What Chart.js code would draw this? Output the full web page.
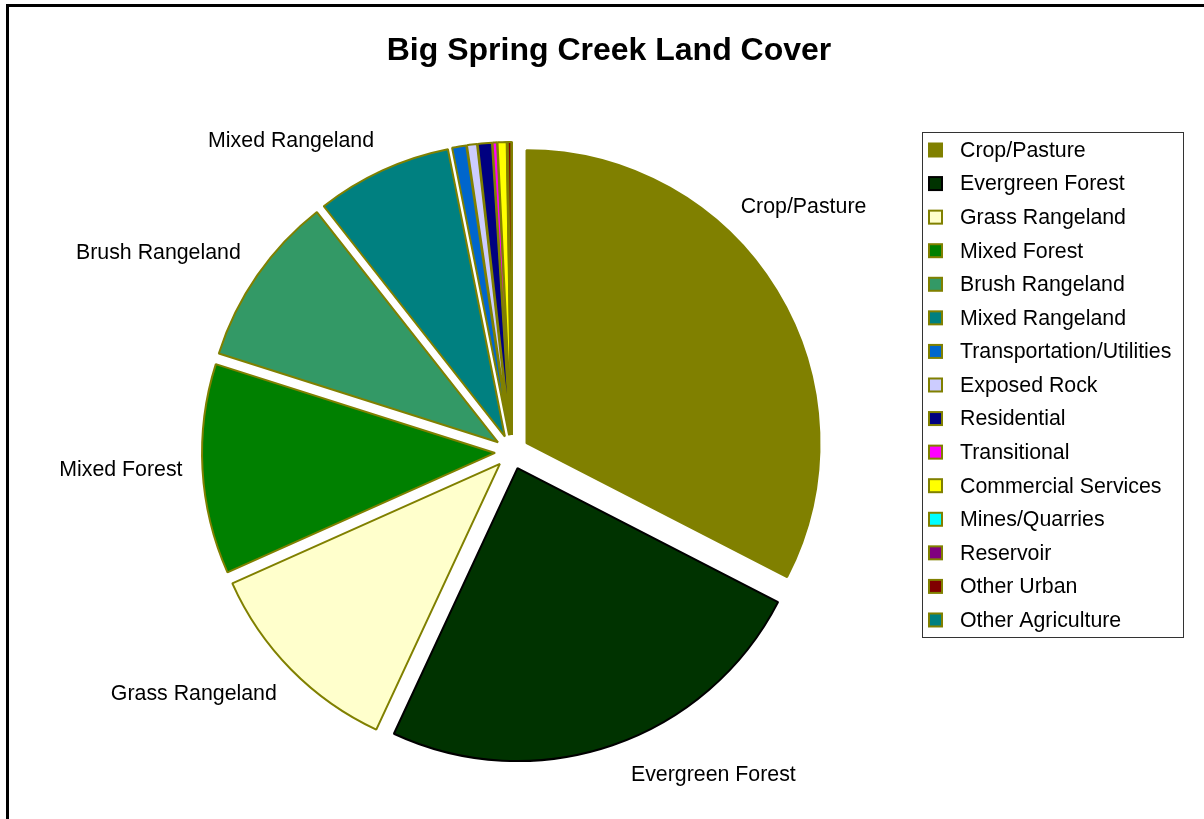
<!DOCTYPE html>
<html>
<head>
<meta charset="utf-8">
<script src="https://cdn.jsdelivr.net/npm/chart.js@4/dist/chart.umd.min.js"></script>
<style>
  html, body { margin: 0; padding: 0; background: #fff; }
  #wrap { width: 1204px; height: 819px; position: relative; }
</style>
</head>
<body>
<div id="wrap"><canvas id="c" width="1204" height="819"></canvas></div>
<script>
const chartTitle = 'Big Spring Creek Land Cover';
const categories = ['Crop/Pasture', 'Evergreen Forest', 'Grass Rangeland', 'Mixed Forest',
  'Brush Rangeland', 'Mixed Rangeland', 'Transportation/Utilities', 'Exposed Rock',
  'Residential', 'Transitional', 'Commercial Services', 'Mines/Quarries', 'Reservoir',
  'Other Urban', 'Other Agriculture'];
const values = [32.6, 24.4, 11.4, 11.6, 9.5, 7.5, 0.78, 0.55, 0.78, 0.25, 0.5, 0.02, 0.02, 0.2, 0.02];
const fillColors = ['#808000', '#003300', '#FFFFCC', '#008000', '#339966', '#008080', '#0066CC',
  '#CCCCFF', '#000080', '#FF00FF', '#FFFF00', '#00FFFF', '#800080', '#800000', '#008080'];
const edgeColors = ['#808000', '#000000', '#808000', '#808000', '#808000', '#808000', '#808000',
  '#808000', '#808000', '#808000', '#808000', '#808000', '#808000', '#808000', '#808000'];

const FONT = '"Liberation Sans", Arial, sans-serif';
const EXPLODE = 17;

const piePlugin = {
  id: 'piePlugin',
  beforeDraw(chart) {
    const ctx = chart.ctx;
    ctx.save();
    ctx.fillStyle = '#ffffff';
    ctx.fillRect(0, 0, chart.width, chart.height);
    ctx.fillStyle = '#000000';
    ctx.fillRect(6, 4, chart.width - 6, 3);
    ctx.fillRect(6, 4, 3, chart.height - 4);
    ctx.restore();
  },
  afterDatasetsUpdate(chart) {
    const meta = chart.getDatasetMeta(0);
    meta.data.forEach(arc => {
      if (arc._baseX === undefined) { arc._baseX = arc.x; arc._baseY = arc.y; }
      const mid = (arc.startAngle + arc.endAngle) / 2;
      arc.x = arc._baseX + Math.cos(mid) * EXPLODE;
      arc.y = arc._baseY + Math.sin(mid) * EXPLODE;
    });
  },
  afterDraw(chart, args, opts) {
    const ctx = chart.ctx;
    ctx.save();
    // title
    ctx.fillStyle = '#000';
    ctx.font = 'bold 32px ' + FONT;
    ctx.textAlign = 'center';
    ctx.textBaseline = 'middle';
    ctx.fillText(chartTitle, 609, 51);

    // slice labels
    const meta = chart.getDatasetMeta(0);
    const total = values.reduce((a, b) => a + b, 0);
    const nudges = opts.labelNudges || {};
    ctx.font = '21.33px ' + FONT;
    meta.data.forEach((arc, i) => {
      if (values[i] / total < 0.05) return;
      const mid = (arc.startAngle + arc.endAngle) / 2;
      const d = arc.outerRadius + EXPLODE + 20;
      const nd = nudges[categories[i]] || [0, 0];
      const x = arc._baseX + Math.cos(mid) * d + nd[0];
      const y = arc._baseY + Math.sin(mid) * d + nd[1];
      const c = Math.cos(mid), s = Math.sin(mid);
      ctx.textAlign = c > 0.1 ? 'left' : (c < -0.1 ? 'right' : 'center');
      ctx.textBaseline = s < -0.3 ? 'bottom' : (s > 0.3 ? 'top' : 'middle');
      ctx.fillText(categories[i], x, y);
    });

    // legend
    const lx = 922, ly = 132, lw = 261, lh = 505;
    ctx.lineWidth = 1;
    ctx.strokeStyle = '#333';
    ctx.strokeRect(lx + 0.5, ly + 0.5, lw, lh);
    ctx.textAlign = 'left';
    ctx.textBaseline = 'middle';
    const step = 33.57;
    categories.forEach((name, i) => {
      const cy = ly + 18 + i * step;
      ctx.fillStyle = fillColors[i];
      ctx.fillRect(929, cy - 6.5, 13, 13);
      ctx.lineWidth = 2;
      ctx.strokeStyle = edgeColors[i];
      ctx.strokeRect(929, cy - 6.5, 13, 13);
      ctx.fillStyle = '#000';
      ctx.fillText(name, 960, cy + 1);
    });
    ctx.restore();
  }
};

new Chart(document.getElementById('c'), {
  type: 'pie',
  data: {
    labels: categories,
    datasets: [{
      data: values,
      backgroundColor: fillColors,
      borderColor: edgeColors,
      borderWidth: 2,
      borderJoinStyle: 'bevel',
      borderAlign: 'center'
    }]
  },
  options: {
    responsive: false,
    animation: false,
    radius: 293,
    layout: { padding: { left: 20, right: 200, top: 110, bottom: 25 } },
    plugins: {
      legend: { display: false },
      tooltip: { enabled: false },
      title: { display: false },
      piePlugin: { labelNudges: { 'Crop/Pasture': [-53, -62], 'Evergreen Forest': [12, 0] } }
    }
  },
  plugins: [piePlugin]
});
</script>
</body>
</html>
